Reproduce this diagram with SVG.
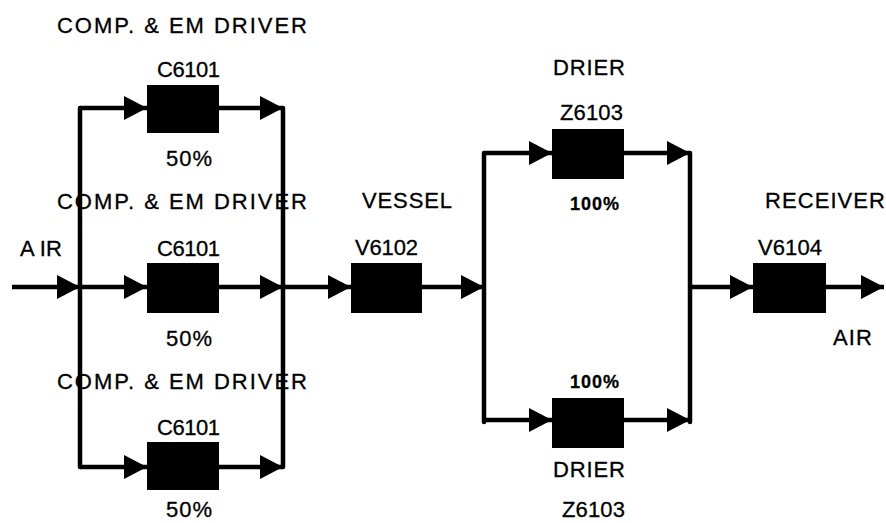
<svg xmlns="http://www.w3.org/2000/svg" width="886" height="523" viewBox="0 0 886 523">
<style>
text{font-family:"Liberation Sans",Arial,sans-serif;font-size:22px;fill:#000;stroke:#000;stroke-width:0.3}
.sm{font-size:18px;font-weight:bold}
.box{fill:#000}
.ln{stroke:#000;stroke-width:4.5;fill:none;stroke-linecap:round}
.ar{stroke:#000;stroke-width:4.5;fill:none;marker-end:url(#ah)}
</style>
<defs>
<marker id="ah" markerUnits="userSpaceOnUse" markerWidth="24" markerHeight="25" refX="23" refY="12" orient="auto" viewBox="0 0 24 25">
<path d="M0,0 L23,12 L0,24 z" fill="#000"/>
</marker>
</defs>
<rect width="886" height="523" fill="#fff"/>
<g id="connectors">
<path class="ln" d="M80,108 V467"/>
<path class="ln" d="M283,108 V467"/>
<path class="ln" d="M484,153 V422"/>
<path class="ln" d="M690,153 V422"/>
<path class="ar" d="M12,287 H80"/>
<path class="ar" d="M80,108 H147"/>
<path class="ar" d="M80,287 H147"/>
<path class="ar" d="M80,467 H147"/>
<path class="ar" d="M219,108 H283"/>
<path class="ar" d="M219,287 H283"/>
<path class="ar" d="M219,467 H283"/>
<path class="ar" d="M283,287 H351"/>
<path class="ar" d="M422,287 H484"/>
<path class="ar" d="M484,153 H552"/>
<path class="ar" d="M484,420 H552"/>
<path class="ar" d="M624,153 H690"/>
<path class="ar" d="M624,420 H690"/>
<path class="ar" d="M690,287 H753"/>
<path class="ar" d="M826,287 H884"/>
</g>
<g id="inlet">
<text x="20" y="256" textLength="42" lengthAdjust="spacing">A IR</text>
</g>
<g id="c6101-top">
<text x="57" y="33" textLength="250" lengthAdjust="spacing">COMP. &amp; EM DRIVER</text>
<text x="157" y="77" textLength="63" lengthAdjust="spacing">C6101</text>
<rect class="box" x="147" y="85" width="72" height="48"/>
<text x="166" y="166" textLength="46" lengthAdjust="spacing">50%</text>
</g>
<g id="c6101-mid">
<text x="57" y="209" textLength="250" lengthAdjust="spacing">COMP. &amp; EM DRIVER</text>
<text x="157" y="256" textLength="63" lengthAdjust="spacing">C6101</text>
<rect class="box" x="147" y="263" width="72" height="50"/>
<text x="166" y="346" textLength="46" lengthAdjust="spacing">50%</text>
</g>
<g id="c6101-bot">
<text x="57" y="389" textLength="250" lengthAdjust="spacing">COMP. &amp; EM DRIVER</text>
<text x="157" y="435" textLength="63" lengthAdjust="spacing">C6101</text>
<rect class="box" x="147" y="442" width="72" height="48"/>
<text x="166" y="517" textLength="46" lengthAdjust="spacing">50%</text>
</g>
<g id="v6102">
<text x="362" y="208" textLength="90" lengthAdjust="spacing">VESSEL</text>
<text x="355" y="255" textLength="63" lengthAdjust="spacing">V6102</text>
<rect class="box" x="351" y="263" width="71" height="50"/>
</g>
<g id="z6103-top">
<text x="553" y="75" textLength="72" lengthAdjust="spacing">DRIER</text>
<text x="560" y="120" textLength="63" lengthAdjust="spacing">Z6103</text>
<rect class="box" x="552" y="129" width="72" height="50"/>
<text class="sm" x="570" y="210" textLength="49" lengthAdjust="spacing">100%</text>
</g>
<g id="z6103-bot">
<text class="sm" x="570" y="388" textLength="49" lengthAdjust="spacing">100%</text>
<rect class="box" x="552" y="398" width="72" height="50"/>
<text x="553" y="477" textLength="72" lengthAdjust="spacing">DRIER</text>
<text x="562" y="517" textLength="63" lengthAdjust="spacing">Z6103</text>
</g>
<g id="v6104">
<text x="765" y="208" textLength="120" lengthAdjust="spacing">RECEIVER</text>
<text x="758" y="255" textLength="64" lengthAdjust="spacing">V6104</text>
<rect class="box" x="753" y="263" width="73" height="50"/>
</g>
<g id="outlet">
<text x="833" y="345" textLength="39" lengthAdjust="spacing">AIR</text>
</g>
</svg>
